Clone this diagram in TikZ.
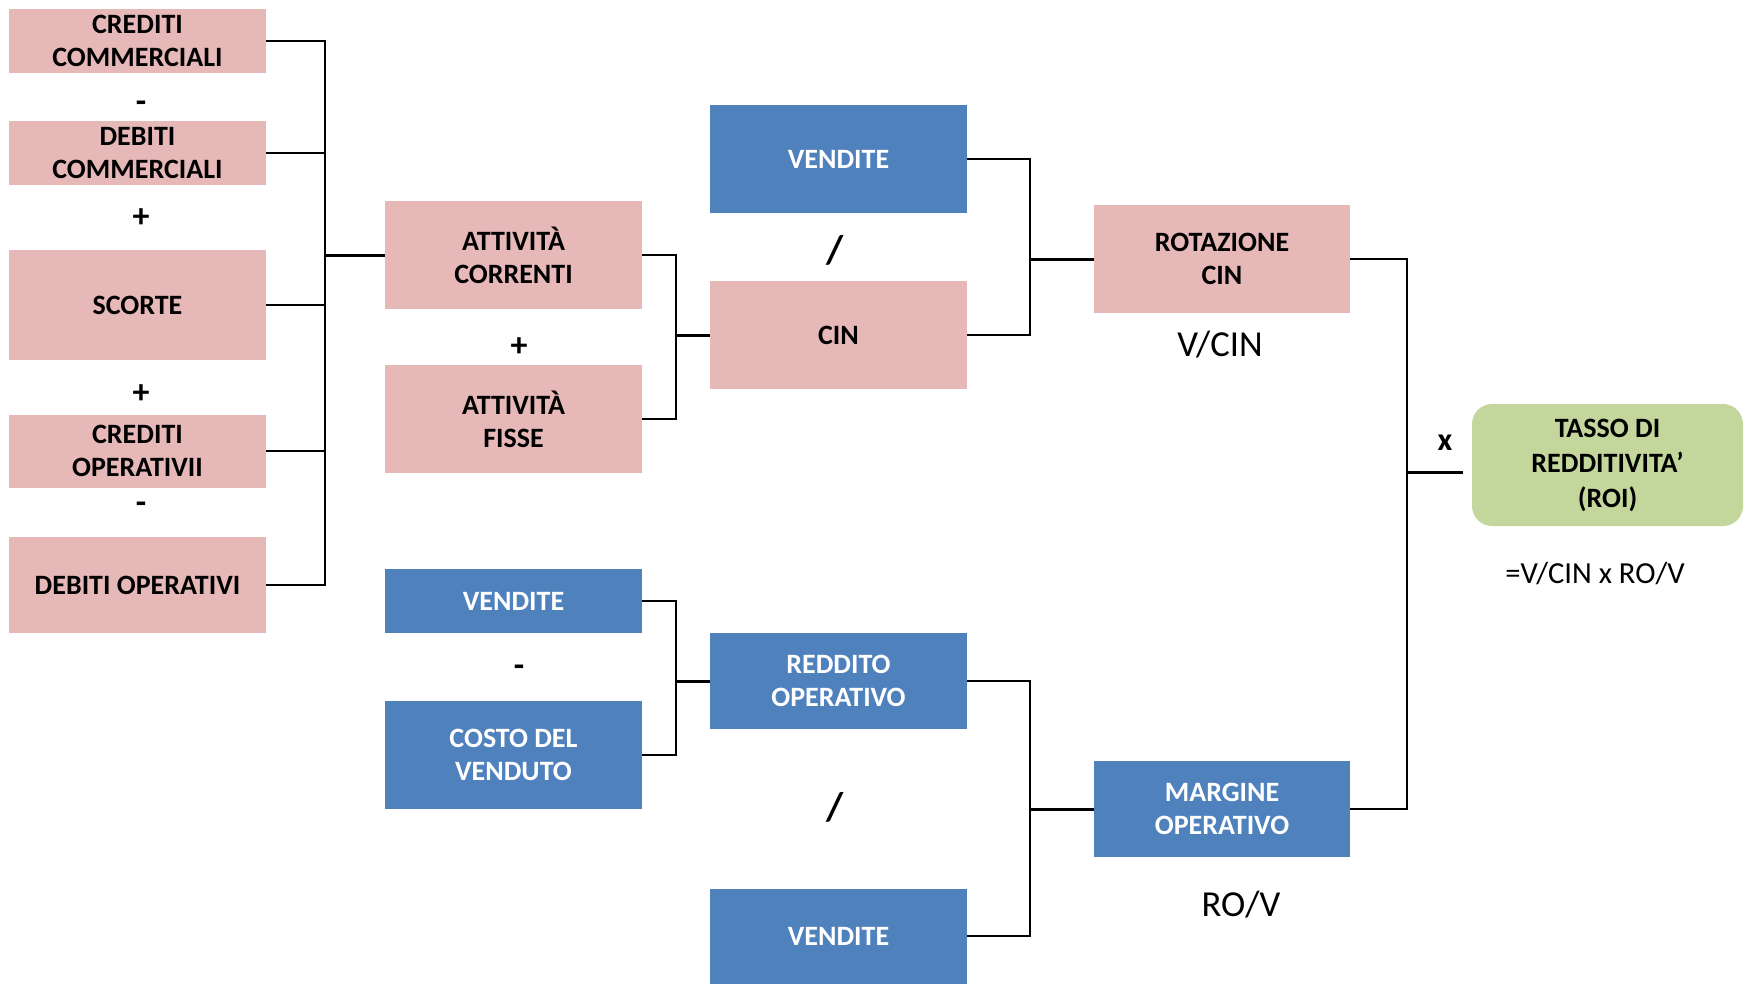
\documentclass[tikz,border=0pt]{standalone}
\usepackage{fontspec}
\setmainfont{Carlito}
\definecolor{pinkbox}{HTML}{E6B9B8}
\definecolor{bluebox}{HTML}{4F81BD}
\definecolor{greenbox}{HTML}{C3D69B}
\begin{document}
\begin{tikzpicture}[x=0.5pt,y=-0.5pt,
 box/.style={rectangle, inner sep=0pt, minimum width=128.5pt, align=center, font=\fontsize{14}{16.5}\selectfont\bfseries},
 pbox/.style={box, fill=pinkbox, text=black},
 bbox/.style={box, fill=bluebox, text=white},
 sign/.style={font=\fontsize{17}{19}\selectfont\bfseries, inner sep=0pt},
 slash/.style={font=\fontsize{20}{22}\selectfont\bfseries, inner sep=0pt},
 ratio/.style={font=\fontsize{18.3}{20}\selectfont, inner sep=0pt},
 link/.style={line width=1pt, draw=black},
 trunk/.style={line width=1.5pt, draw=black}]
\useasboundingbox (0,0) rectangle (1748,987);

% column 1
\node[pbox, minimum height=32pt] (cc) at (137.5,41) {CREDITI\\COMMERCIALI};
\node[sign] (s1) at (141,107) {-};
\node[pbox, minimum height=32pt] (dc) at (137.5,153) {DEBITI\\COMMERCIALI};
\node[sign] (s2) at (141,218) {+};
\node[pbox, minimum height=55pt] (sc) at (137.5,305) {SCORTE};
\node[sign] (s3) at (141,394) {+};
\node[pbox, minimum height=36.5pt] (co) at (137.5,451) {CREDITI\\OPERATIVII};
\node[sign] (s4) at (141,508) {-};
\node[pbox, minimum height=48pt] (do) at (137.5,585) {DEBITI OPERATIVI};

% column 2
\node[pbox, minimum height=54pt] (ac) at (513.5,255) {ATTIVITÀ\\CORRENTI};
\node[sign] (s5) at (519,347) {+};
\node[pbox, minimum height=54pt] (af) at (513.5,419) {ATTIVITÀ\\FISSE};
\node[bbox, minimum height=32pt] (v2) at (513.5,601) {VENDITE};
\node[sign] (s6) at (519,671) {-};
\node[bbox, minimum height=54pt] (cdv) at (513.5,755) {COSTO DEL\\VENDUTO};

% column 3
\node[bbox, minimum height=54pt] (v1) at (838.5,159) {VENDITE};
\node[slash] (d1) at (835,250) {/};
\node[pbox, minimum height=54pt] (cin) at (838.5,335) {CIN};
\node[bbox, minimum height=48pt] (ro) at (838.5,681) {REDDITO\\OPERATIVO};
\node[slash] (d2) at (835,807) {/};
\node[bbox, minimum height=47.5pt] (v3) at (838.5,936) {VENDITE};

% column 4
\node[pbox, minimum width=128pt, minimum height=54pt] (rot) at (1222,259) {ROTAZIONE\\CIN};
\node[ratio] (vcin) at (1220,345) {V/CIN};
\node[bbox, minimum width=128pt, minimum height=48pt] (mo) at (1222,809) {MARGINE\\OPERATIVO};
\node[ratio] (rov) at (1241,905) {RO/V};

% result
\node[box, fill=greenbox, rounded corners=10pt, minimum width=135.5pt, minimum height=61pt, font=\fontsize{14}{17.5}\selectfont\bfseries] (roi) at (1607.5,465) {TASSO DI\\REDDITIVITA’\\(ROI)};
\node[font=\fontsize{16}{18}\selectfont\bfseries, inner sep=0pt] (mul) at (1445,443) {x};
\node[font=\fontsize{15.3}{17}\selectfont, inner sep=0pt] (form) at (1595,574) {=V/CIN x RO/V};

% junction columns
\coordinate (x1) at (325,0);
\coordinate (x2) at (676,0);
\coordinate (x3) at (1030,0);
\coordinate (j6) at (1407,472);
\coordinate (j6e) at (1463,472);

% connectors
\foreach \n in {cc,dc,sc,co,do} \draw[link] (\n.east) -| (x1 |- ac.west);
\draw[trunk] (x1 |- ac.west) -- (ac.west);
\foreach \n in {ac,af} \draw[link] (\n.east) -| (x2 |- cin.west);
\draw[trunk] (x2 |- cin.west) -- (cin.west);
\foreach \n in {v1,cin} \draw[link] (\n.east) -| (x3 |- rot.west);
\draw[trunk] (x3 |- rot.west) -- (rot.west);
\foreach \n in {v2,cdv} \draw[link] (\n.east) -| (x2 |- ro.west);
\draw[trunk] (x2 |- ro.west) -- (ro.west);
\foreach \n in {ro,v3} \draw[link] (\n.east) -| (x3 |- mo.west);
\draw[trunk] (x3 |- mo.west) -- (mo.west);
\foreach \n in {rot,mo} \draw[link] (\n.east) -| (j6);
\draw[trunk] (j6) -- (j6e);
\end{tikzpicture}
\end{document}
